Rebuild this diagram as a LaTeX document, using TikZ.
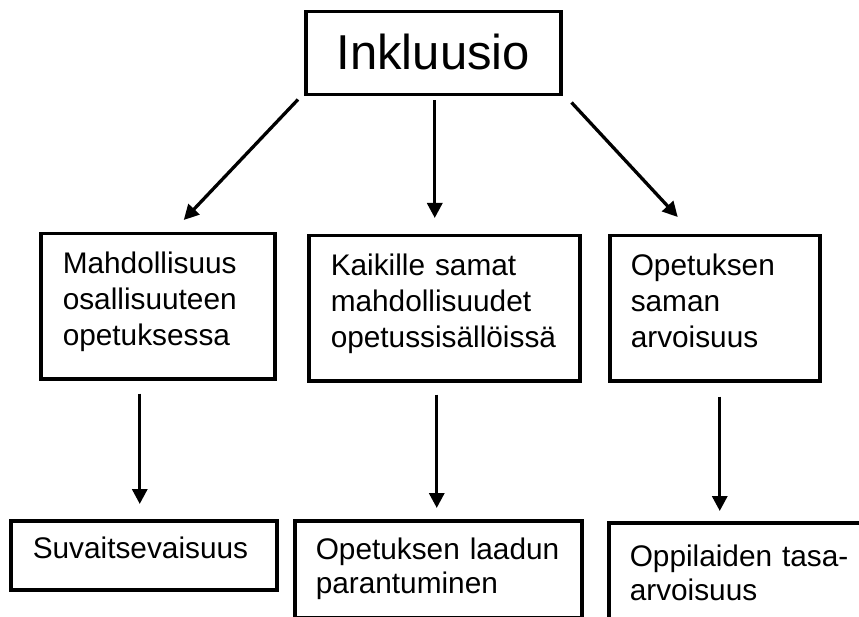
\documentclass[tikz,border=0pt]{standalone}
\usepackage{fontspec}
\setmainfont{Liberation Sans}
\usetikzlibrary{arrows.meta}

\begin{document}
\begin{tikzpicture}[
        x=1pt, y=-1pt,
        ttl/.style={rectangle, draw=black, line width=3.5pt, anchor=north west, inner ysep=0pt, font=\fontsize{49pt}{58pt}\selectfont},
        cbox/.style={rectangle, draw=black, line width=3.5pt, anchor=north west, align=left, inner xsep=21pt, inner ysep=0pt, text height=40pt, font=\fontsize{29.8pt}{36pt}\selectfont},
        arrow/.style={-{Triangle[length=15pt, width=15pt]}, line width=3.3pt, draw=black}
    ]
        \useasboundingbox (0,0) rectangle (859,617);
        \clip (0,0) rectangle (859,617);

        \node[ttl, minimum width=255pt, text height=58pt, text depth=25pt] (incl) at (304,10) {Inkluusio};

        % middle row
        \node[cbox, text width=190pt, inner xsep=22pt, text depth=105pt] (mahd) at (39,232) {Mahdollisuus\\osallisuuteen\\opetuksessa};
        \node[cbox, text width=227pt, inner xsep=22pt, text depth=105pt] (kaik) at (307,234) {Kaikille samat\\mahdollisuudet\\opetussisällöissä};
        \node[cbox, text width=168pt, text depth=105pt] (opet) at (608,234) {Opetuksen\\saman\\arvoisuus};

        % bottom row
        \node[cbox, text width=222pt, inner xsep=22pt, text height=38pt, text depth=31pt] (suva) at (9,519) {Suvaitsevaisuus};
        \node[cbox, text width=245pt, text height=39pt, text depth=58pt, font=\fontsize{29.8pt}{34pt}\selectfont] (laad) at (293,519) {Opetuksen laadun\\parantuminen};
        \node[cbox, text width=226pt, text height=44pt, text depth=75pt, font=\fontsize{29.8pt}{34pt}\selectfont] (tasa) at (607,521) {Oppilaiden tasa-\\arvoisuus};

        \draw[arrow] ([xshift=-6pt, yshift=-3pt]incl.south west) -- ([xshift=26pt, yshift=12pt]mahd.north);
        \draw[arrow] ([xshift=1.5pt, yshift=-4pt]incl.south) -- ([xshift=-9.5pt, yshift=16pt]kaik.north);
        \draw[arrow] ([xshift=9pt, yshift=-6pt]incl.south east) -- ([xshift=-37pt, yshift=17pt]opet.north);

        \draw[arrow] ([xshift=-18pt, yshift=-13pt]mahd.south) -- ([xshift=-4pt, yshift=15pt]suva.north);
        \draw[arrow] ([xshift=-7.5pt, yshift=-12pt]kaik.south) -- ([xshift=-1.5pt, yshift=11pt]laad.north);
        \draw[arrow] ([xshift=5pt, yshift=-14pt]opet.south) -- ([xshift=-23pt, yshift=10pt]tasa.north);
    \end{tikzpicture}
\end{document}
